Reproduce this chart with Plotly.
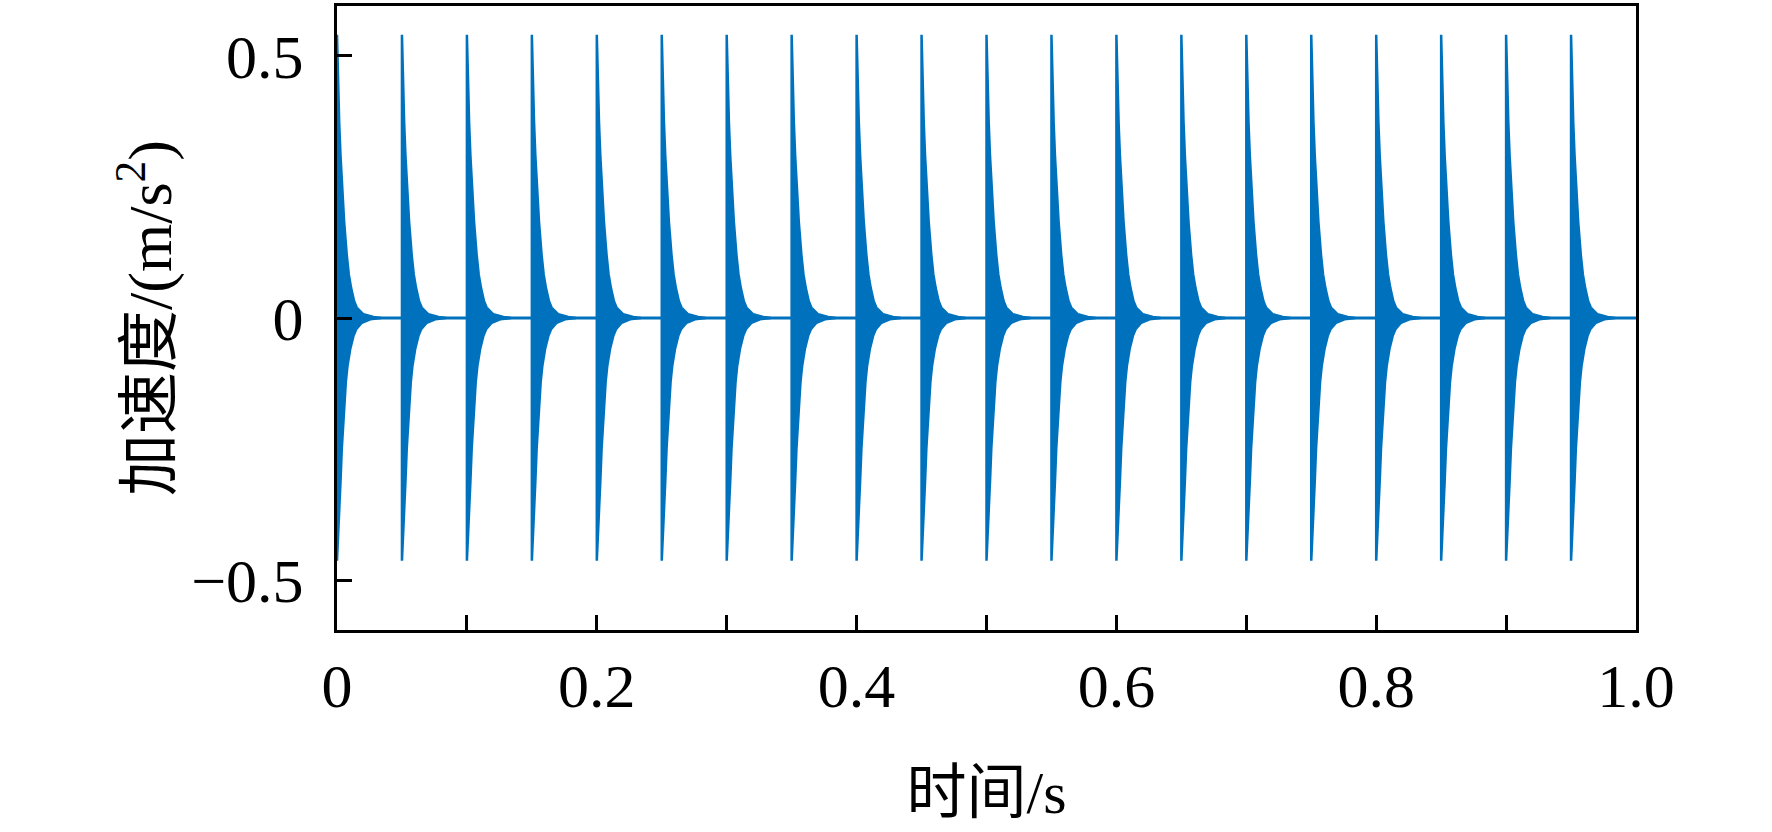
import plotly.graph_objects as go

# impact instants (s)
impact_times = [0.00, 0.05, 0.10, 0.15, 0.20, 0.25, 0.30, 0.35, 0.40, 0.45,
                0.50, 0.55, 0.60, 0.65, 0.70, 0.75, 0.80, 0.85, 0.90, 0.95]

# envelope of one decaying response (time after impact, s)
upper_offsets = [0.0, 0.0009, 0.0017, 0.0027, 0.0040, 0.0055, 0.0075, 0.0091,
                 0.0109, 0.0132, 0.0152, 0.0204, 0.0281, 0.0340]
upper_values = [0.540, 0.430, 0.373, 0.310, 0.247, 0.184, 0.121, 0.083,
                0.057, 0.032, 0.020, 0.007, 0.002, 0.0]
lower_offsets = [0.0, 0.0009, 0.0017, 0.0027, 0.0037, 0.0050, 0.0068, 0.0081,
                 0.0102, 0.0127, 0.0148, 0.0191, 0.0256, 0.0340]
lower_values = [-0.463, -0.407, -0.375, -0.312, -0.249, -0.186, -0.1225, -0.091,
                -0.059, -0.034, -0.0215, -0.009, -0.0025, 0.0]

baseline_t = [0.0, 1.0]
baseline_a = [0.0, 0.0]

x_tickvals = [0.0, 0.2, 0.4, 0.6, 0.8, 1.0]
x_ticktext = ["0", "0.2", "0.4", "0.6", "0.8", "1.0"]
x_minor_tickvals = [0.1, 0.3, 0.5, 0.7, 0.9]
y_tickvals = [-0.5, 0.0, 0.5]
y_ticktext = ["\u22120.5", "0", "0.5"]

color = "#0072BD"

xs, ys = [], []
for t0 in impact_times:
    for o, v in zip(upper_offsets, upper_values):
        xs.append(t0 + o)
        ys.append(v)
    for o, v in zip(reversed(lower_offsets), reversed(lower_values)):
        xs.append(t0 + o)
        ys.append(v)
    xs.append(t0 + upper_offsets[0])
    ys.append(upper_values[0])
    xs.append(None)
    ys.append(None)

fig = go.Figure()
fig.add_trace(go.Scatter(x=baseline_t, y=baseline_a, mode="lines",
                         line=dict(color=color, width=3), showlegend=False,
                         hoverinfo="skip"))
fig.add_trace(go.Scatter(x=xs, y=ys, mode="lines", fill="toself",
                         fillcolor=color, line=dict(color=color, width=2.5),
                         showlegend=False))

font_family = "Liberation Serif, Times New Roman, Noto Sans CJK SC, serif"

fig.update_layout(
    width=1772, height=832,
    margin=dict(l=337, r=136, t=3, b=202),
    paper_bgcolor="white", plot_bgcolor="white",
    font=dict(family=font_family, size=60, color="black"),
    xaxis=dict(
        range=[0, 1], tickvals=x_tickvals, ticktext=x_ticktext,
        ticks="inside", ticklen=15, tickwidth=3, tickcolor="black",
        minor=dict(tickvals=x_minor_tickvals, ticks="inside",
                   ticklen=15, tickwidth=3, tickcolor="black"),
        showline=True, linewidth=3, linecolor="black", mirror=True,
        showgrid=False, zeroline=False,
        tickfont=dict(family=font_family, size=62),
        title=dict(text="时间/s", font=dict(family=font_family, size=60), standoff=52),
    ),
    yaxis=dict(
        range=[-0.595, 0.595], tickvals=y_tickvals, ticktext=y_ticktext,
        ticks="inside", ticklen=15, tickwidth=3, tickcolor="black",
        showline=True, linewidth=3, linecolor="black", mirror=True,
        showgrid=False, zeroline=False, ticklabelstandoff=18,
        tickfont=dict(family=font_family, size=62),
        title=dict(text="加速度/(m/s<sup>2</sup>)", font=dict(family=font_family, size=62), standoff=0),
    ),
)

fig.write_html("out.html", config={"displayModeBar": False},
               post_script="document.body.style.margin='0px';")
